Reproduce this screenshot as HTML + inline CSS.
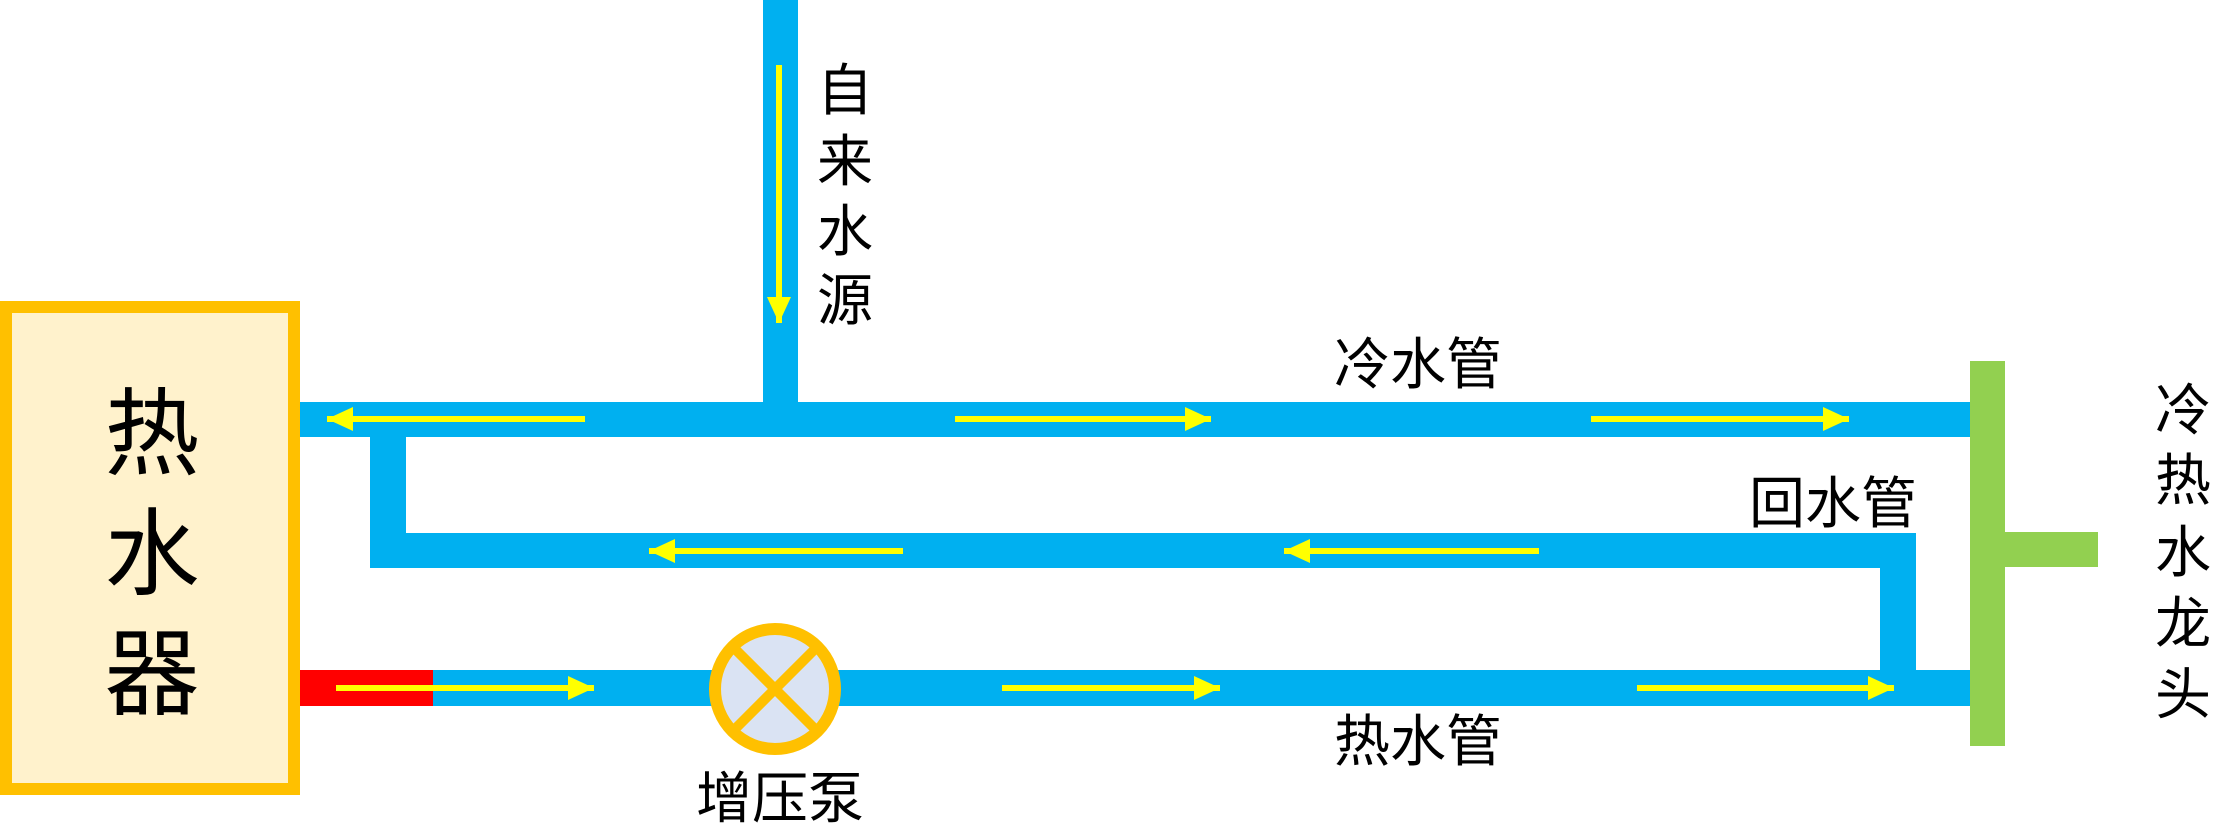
<!DOCTYPE html>
<html><head><meta charset="utf-8"><style>
html,body{margin:0;padding:0;background:#fff;}
svg{display:block;}
text{font-family:"Liberation Sans","Noto Sans CJK SC",sans-serif;fill:#000;}
</style></head><body>
<svg width="2213" height="825" viewBox="0 0 2213 825" xmlns="http://www.w3.org/2000/svg">
<defs>
<marker id="ah" markerWidth="26" markerHeight="24" refX="26" refY="12" orient="auto" markerUnits="userSpaceOnUse">
<path d="M0,0 L26,12 L0,24 Z" fill="#ffff00"/>
</marker>
</defs>
<!-- heater -->
<rect x="6" y="307" width="288" height="482" fill="#fff2cc" stroke="#ffc000" stroke-width="12"/>
<text x="152" y="467" font-size="95" text-anchor="middle">热</text>
<text x="152" y="587" font-size="95" text-anchor="middle">水</text>
<text x="152" y="707" font-size="95" text-anchor="middle">器</text>
<!-- pipes -->
<rect x="763" y="0" width="35" height="420" fill="#00b0f0"/>
<rect x="300" y="402" width="1670" height="35" fill="#00b0f0"/>
<rect x="370" y="420" width="36" height="148" fill="#00b0f0"/>
<rect x="370" y="533" width="1546" height="35" fill="#00b0f0"/>
<rect x="1880" y="533" width="36" height="155" fill="#00b0f0"/>
<rect x="300" y="670" width="1670" height="36" fill="#00b0f0"/>
<rect x="300" y="670" width="133" height="36" fill="#ff0000"/>
<!-- faucet -->
<rect x="1970" y="361" width="35" height="385" fill="#92d050"/>
<rect x="2005" y="532" width="93" height="35" fill="#92d050"/>
<!-- arrows -->
<g stroke="#ffff00" stroke-width="6" marker-end="url(#ah)">
<line x1="779" y1="65" x2="779" y2="323"/>
<line x1="585" y1="419" x2="327" y2="419"/>
<line x1="955" y1="419" x2="1211" y2="419"/>
<line x1="1591" y1="419" x2="1849" y2="419"/>
<line x1="903" y1="551" x2="649" y2="551"/>
<line x1="1539" y1="551" x2="1284" y2="551"/>
<line x1="336" y1="688" x2="594" y2="688"/>
<line x1="1002" y1="688" x2="1220" y2="688"/>
<line x1="1637" y1="688" x2="1894" y2="688"/>
</g>
<!-- pump -->
<circle cx="775" cy="689" r="60" fill="#dae3f3" stroke="#ffc000" stroke-width="12"/>
<g stroke="#ffc000" stroke-width="10">
<line x1="733" y1="647" x2="817" y2="731"/>
<line x1="817" y1="647" x2="733" y2="731"/>
</g>
<text x="780" y="818" font-size="56" text-anchor="middle">增压泵</text>
<!-- labels -->
<g font-size="56" text-anchor="middle">
<text x="845" y="110">自</text>
<text x="845" y="181">来</text>
<text x="845" y="251">水</text>
<text x="845" y="320">源</text>
<text x="1418" y="384">冷水管</text>
<text x="1833" y="523">回水管</text>
<text x="1418" y="761">热水管</text>
<text x="2183" y="430">冷</text>
<text x="2183" y="500">热</text>
<text x="2183" y="572">水</text>
<text x="2183" y="643">龙</text>
<text x="2183" y="714">头</text>
</g>
</svg>
</body></html>
